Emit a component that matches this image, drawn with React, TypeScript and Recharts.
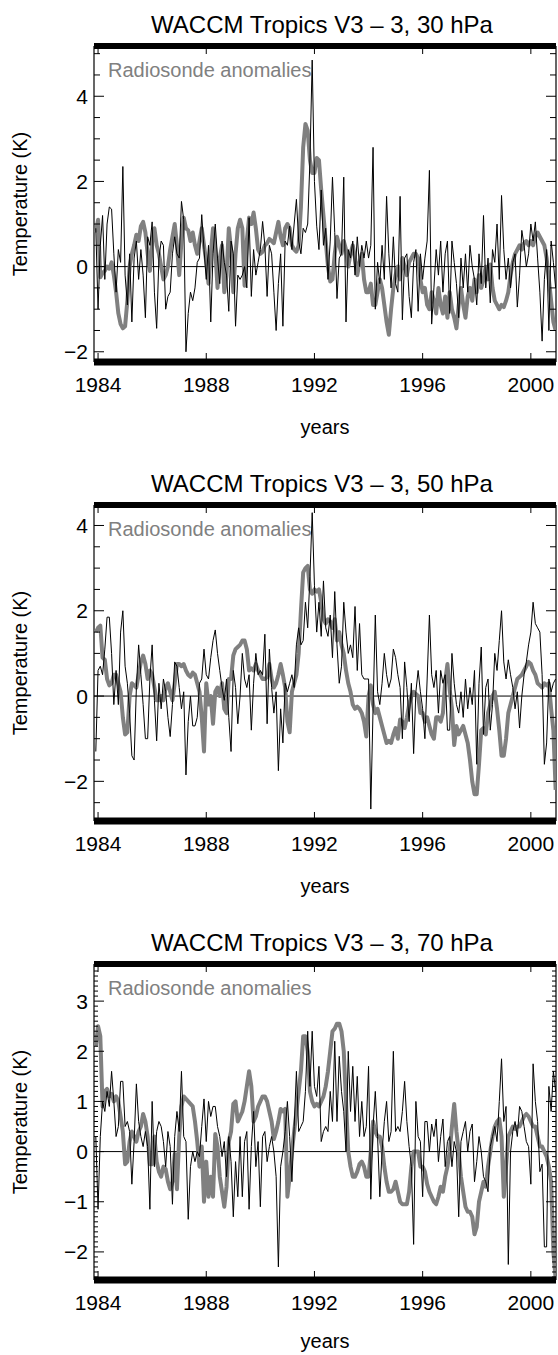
import { LineChart, Line, XAxis, YAxis, ReferenceLine } from 'recharts'

// monthly anomalies, Dec 1983 .. Dec 2000 (205 months)
const FIRST_MONTH = 1983 + 11 / 12
const YEAR_TICKS = [1984, 1988, 1992, 1996, 2000]
const X_DOMAIN: [number, number] = [1983.85, 2000.93]

// 30 hPa
const WACCM_30 = [
  0.9,
  -1.0, 0.5, 1.2, -0.3, 1.0, 1.4, 1.35, 0.3, -0.6, 0.4, 0.1, 2.35, // 1984
  -0.2, -0.9, 0.3, -1.3, 0.2, 0.6, -0.3, 0.4, -0.2, -1.2, 0.7, 0.5, // 1985
  1.05, -0.6, -1.45, 0.2, 0.6, 0.5, -1.0, -0.7, -0.6, 0.3, 0.7, 0.3, // 1986
  0.2, 1.53, 1.1, -2.0, -1.1, -0.6, -0.8, -0.5, 0.1, 0.2, 1.22, 0.4, // 1987
  -0.3, 0.5, -1.3, 0.3, 1.0, 0.2, -0.4, 0.6, 0.1, -0.2, -1.05, 0.6, // 1988
  0.3, -1.4, -0.2, -0.3, -0.2, 0.0, -0.5, 1.15, -0.7, 0.4, -0.2, 0.1, // 1989
  0.4, 1.06, 0.5, -0.7, 0.5, 0.3, -0.6, -1.5, -0.4, 0.3, -1.4, 0.6, // 1990
  0.5, 0.95, 0.4, 1.0, 1.58, 0.6, 0.3, 0.9, 0.8, 1.0, 2.5, 4.85, // 1991
  2.0, 0.95, 0.4, 1.8, 0.5, 0.9, -0.3, 0.6, 2.1, 0.8, -0.75, 0.2, // 1992
  0.3, 2.1, -1.3, 0.4, 0.2, 0.6, -0.2, 0.7, 0.0, 0.5, 0.2, 0.6, // 1993
  0.2, 0.5, 2.8, -1.0, 0.1, -0.4, 0.5, -0.3, 1.65, 0.3, -0.5, 0.7, // 1994
  -0.4, -0.6, 1.65, -1.25, 0.2, 0.3, -0.7, -1.2, 0.1, 0.4, -1.05, 0.3, // 1995
  -0.3, 0.2, 0.6, 2.26, -1.35, -0.5, 0.4, -0.2, 0.6, -0.6, 0.3, 0.6, // 1996
  -1.1, 0.6, 0.1, -0.4, -1.2, 0.2, -0.5, 0.3, -0.6, 0.5, 0.0, -0.3, // 1997
  -0.9, 0.3, -0.4, 1.2, -0.5, 0.2, -0.85, 0.4, 0.1, 1.0, -0.3, 1.67, // 1998
  0.4, -0.3, 0.2, -0.5, 0.1, 0.3, -0.95, -0.2, 0.85, 0.5, 0.0, 0.3, // 1999
  1.0, 0.6, 1.05, 0.2, -0.6, -1.75, -0.3, 0.4, -1.5, 0.6, 0.1, -0.5, // 2000
]
const SONDE_30 = [
  0.8,
  1.1, -0.25, -0.15, -0.1, 0.0, -0.05, 0.1, -0.2, -0.6, -1.1, -1.35, -1.45, // 1984
  -1.4, -0.8, 0.0, 0.3, 0.5, 0.75, 0.6, 0.95, 1.05, 0.8, 0.3, -0.1, // 1985
  0.6, 0.9, 0.5, 0.3, 0.0, -0.3, -0.2, 0.0, 0.4, 0.7, 1.0, 0.5, // 1986
  -0.2, 0.6, 1.15, 0.9, 0.85, 0.6, 0.8, 0.5, 0.3, 0.6, 0.9, 0.5, // 1987
  0.1, -0.4, 0.3, 0.9, 0.4, -0.5, 0.2, 0.5, -0.6, -0.2, 0.9, 0.4, // 1988
  -0.6, 0.3, 0.9, 1.1, 0.9, -0.45, 0.6, 1.15, 1.0, 1.27, 0.9, 0.4, // 1989
  0.3, 0.35, 0.5, 0.55, 0.65, 0.6, 0.55, 0.8, 1.05, 0.7, 0.5, 0.9, // 1990
  1.0, 0.9, 0.5, 0.4, 0.35, 0.5, 1.4, 2.8, 3.35, 3.2, 2.5, 2.2, // 1991
  2.2, 2.55, 2.5, 1.8, 1.2, 0.6, 0.0, -0.35, -0.3, 0.3, 0.7, 0.5, // 1992
  0.3, 0.6, 0.4, 0.0, 0.3, 0.5, 0.2, -0.2, 0.1, 0.3, -0.3, -0.6, // 1993
  -0.6, -0.4, -0.9, -0.9, -0.6, -0.3, -0.5, -0.9, -1.3, -1.6, -1.0, -0.5, // 1994
  -0.2, 0.0, -0.3, 0.2, 0.0, -0.2, 0.1, 0.2, 0.3, 0.3, 0.2, -0.3, // 1995
  -0.6, -0.5, -0.9, -1.0, -0.6, -0.8, -1.1, -0.5, -0.9, -1.1, -0.7, -1.2, // 1996
  -0.6, -1.0, -1.2, -1.45, -0.9, -0.5, -0.9, -1.2, -0.7, -0.5, -0.8, -0.3, // 1997
  -0.6, -0.2, -0.5, -0.3, 0.0, -0.3, 0.05, -0.5, -0.8, -0.9, -1.0, -0.9, // 1998
  -0.95, -0.8, -0.6, -0.2, 0.1, 0.3, 0.4, 0.5, 0.4, 0.55, 0.6, 0.5, // 1999
  0.6, 0.5, 0.7, 0.8, 0.7, 0.6, 0.5, 0.2, -0.3, -0.8, -1.3, -1.5, // 2000
]

// 50 hPa
const WACCM_50 = [
  -1.3,
  0.6, 0.7, 0.5, 1.1, 1.85, 1.85, 1.0, -0.2, 0.6, -0.2, 1.5, 2.0, // 1984
  0.7, 0.3, -0.4, -1.4, -1.5, 0.2, 1.2, 0.5, -0.2, -1.0, -1.0, 0.4, // 1985
  1.2, -0.1, -1.05, 0.3, -0.3, 0.4, 0.1, -0.5, -0.95, -0.2, 0.8, 0.7, // 1986
  0.2, -0.3, 0.1, -1.85, -0.6, 0.0, -0.7, -0.7, -0.5, 0.3, 0.4, 1.1, // 1987
  0.5, 0.4, 0.9, 1.3, 1.55, 1.0, 0.6, 0.2, -0.1, 0.4, -0.5, -1.3, // 1988
  0.6, 0.2, -0.65, 0.0, 1.0, 0.4, 0.2, 0.5, -0.8, 0.3, 1.0, 0.5, // 1989
  0.6, 0.5, 1.45, -0.65, 1.1, 0.2, -0.4, 0.1, -1.75, -0.3, -1.1, 0.3, // 1990
  0.1, 0.3, 0.5, 0.2, 1.2, 1.6, 1.2, 1.3, 2.2, 1.6, 2.8, 4.3, // 1991
  2.6, 1.5, 2.2, 1.4, 2.7, 1.6, 1.4, 1.9, 0.9, 2.45, 1.2, 0.3, // 1992
  0.7, 2.2, 1.5, 1.0, 1.2, 0.9, 2.1, 0.6, 1.7, 0.5, 0.4, 0.4, // 1993
  0.4, -2.65, -0.3, 1.9, 0.1, -0.2, 0.3, 1.0, 0.5, 0.2, 0.4, 1.1, // 1994
  0.9, 0.5, 0.2, -1.0, 0.8, 0.2, -0.6, 0.3, -1.35, 0.1, 0.6, 0.1, // 1995
  -0.3, -1.0, 0.4, 1.9, 0.5, 0.2, 0.6, -0.4, 0.6, 0.3, 0.5, -0.8, // 1996
  -0.8, 1.0, 0.3, -0.2, -0.4, 0.1, -0.5, 0.4, -0.3, 0.2, -0.2, 0.6, // 1997
  -1.6, 0.3, 1.15, -0.9, 0.2, 0.4, -0.8, -0.2, 1.0, 0.6, 1.3, 2.0, // 1998
  0.8, 0.4, 0.85, 0.5, 0.2, -0.3, 0.1, -0.75, 0.0, 0.5, 0.8, 1.2, // 1999
  1.5, 2.2, 1.7, 1.6, 1.5, 0.5, -1.6, -1.1, 0.4, 0.1, 0.3, 0.4, // 2000
]
const SONDE_50 = [
  1.5,
  1.6, 1.65, 0.9, 0.85, 0.4, 0.25, 0.3, 0.5, 0.5, 0.3, 0.1, -0.5, // 1984
  -0.9, -0.85, 0.0, 0.3, 0.25, 0.2, 0.5, 0.8, 0.95, 0.75, 0.4, 0.6, // 1985
  0.5, 0.2, -0.1, -0.1, 0.0, -0.1, 0.2, 0.3, 0.1, -0.1, 0.3, 0.75, // 1986
  0.75, 0.7, 0.75, 0.6, 0.5, 0.45, 0.55, 0.5, 0.3, 0.1, -0.5, -1.3, // 1987
  0.3, -0.2, 0.0, -0.65, 0.1, 0.2, 0.0, 0.3, -0.3, -0.4, 0.4, 0.4, // 1988
  0.95, 1.1, 1.15, 1.2, 1.3, 1.3, 1.1, 0.6, 0.65, 0.6, 0.75, 0.6, // 1989
  0.5, 0.4, 0.4, 0.45, 0.75, 0.4, 0.2, 0.3, 0.5, 0.75, 0.5, 0.2, // 1990
  -0.6, -0.85, 0.1, 0.3, 0.5, 1.0, 2.0, 2.9, 3.0, 3.05, 2.5, 2.4, // 1991
  2.5, 2.45, 2.5, 2.2, 1.8, 1.7, 1.8, 1.75, 1.6, 1.8, 1.3, 1.5, // 1992
  1.2, 1.0, 0.6, 0.3, 0.1, -0.2, -0.3, -0.25, -0.3, -0.4, -0.6, -0.95, // 1993
  0.0, 0.25, -0.2, -0.4, -0.3, -0.5, -0.7, -0.9, -1.1, -1.05, -1.1, -0.9, // 1994
  -0.75, -1.0, -0.55, -0.6, -0.75, -0.5, -0.2, 0.0, 0.1, 0.05, 0.0, -0.4, // 1995
  -0.4, -0.6, -0.5, -0.7, -0.9, -1.0, -0.5, -0.5, -0.6, -0.4, 0.35, 0.75, // 1996
  0.15, -0.3, -1.15, -0.7, -0.9, -0.8, -0.7, -0.9, -1.1, -1.5, -2.0, -2.3, // 1997
  -2.3, -1.6, -0.8, -0.75, -0.9, -0.4, -0.2, 0.0, 0.1, -0.3, -0.8, -1.4, // 1998
  -1.4, -1.0, -0.4, -0.2, 0.0, 0.2, 0.4, 0.45, 0.5, 0.6, 0.7, 0.8, // 1999
  0.75, 0.6, 0.5, 0.3, 0.25, 0.2, 0.3, 0.25, 0.3, -0.3, -0.8, -2.2, // 2000
]

// 70 hPa
const WACCM_70 = [
  0.3,
  -1.15, 0.3, 1.0, 0.8, 1.2, 0.9, 1.6, 1.0, 0.3, 0.5, 1.4, 1.4, // 1984
  0.5, 0.6, 0.4, -0.65, 0.2, 1.35, 0.6, 0.3, 0.1, 0.4, 0.1, -1.15, // 1985
  1.0, -0.3, 0.4, 0.6, 0.5, 0.2, -0.3, 0.4, 0.1, -1.05, 0.3, 0.8, // 1986
  0.4, 1.6, 0.3, 0.2, -1.35, -0.3, 0.0, -0.2, 0.0, -0.1, 0.5, 1.05, // 1987
  0.2, 1.0, 0.7, 0.9, 0.9, 0.5, 0.3, -0.1, 0.2, -0.5, 0.3, -0.2, // 1988
  -1.3, -0.2, -0.9, 0.3, -0.9, 0.2, 0.4, -1.15, 0.1, 0.8, -0.3, 0.2, // 1989
  -1.1, 0.3, 0.4, -0.2, 0.1, 0.3, 0.0, -0.5, -2.3, -0.3, 0.0, 0.4, // 1990
  1.0, 0.3, -0.6, 0.5, 1.6, 0.4, 0.5, 0.6, 1.2, 2.4, 1.3, 2.4, // 1991
  1.3, 1.1, 1.7, 0.2, 0.4, 0.5, 0.4, 1.2, 0.6, 2.2, 0.6, 1.9, // 1992
  1.2, 0.8, 0.0, 2.0, 0.8, 1.7, 0.6, 1.5, 0.3, 1.0, 0.3, 0.5, // 1993
  1.7, -0.95, 0.5, 1.2, 0.3, -0.9, 0.0, 0.6, 1.0, 0.2, 0.4, 2.0, // 1994
  0.4, 0.5, 0.4, 0.8, 1.4, 0.6, 0.1, -0.3, -1.85, 1.0, 0.3, 0.2, // 1995
  -0.9, 0.6, 0.6, 0.0, 0.55, 0.3, 0.65, -0.2, 0.3, 0.65, -0.3, 0.2, // 1996
  0.3, -0.3, 0.2, 0.0, -1.3, 0.2, 0.4, 0.6, 0.0, 0.4, 0.55, -0.6, // 1997
  -0.2, 0.3, 0.0, -0.5, -0.6, -0.8, 0.1, 0.3, 0.5, 0.2, 1.0, 1.85, // 1998
  0.6, 0.9, -2.25, 0.0, 0.4, 0.6, 0.3, 0.9, 0.8, 0.5, 0.2, 0.1, // 1999
  -0.65, 1.75, 1.0, 0.6, -0.4, -0.25, -1.9, -1.9, 1.3, 0.8, 1.6, 1.2, // 2000
]
const SONDE_70 = [
  2.1,
  2.5, 2.3, 0.9, 1.2, 1.25, 1.1, 1.15, 1.0, 1.1, 1.0, 0.7, 0.4, // 1984
  -0.25, -0.2, 0.2, 0.4, 0.3, 0.2, 0.4, 0.5, 0.75, 0.6, 0.3, -0.25, // 1985
  -0.25, 0.3, -0.2, -0.4, -0.5, -0.3, -0.35, -0.6, -0.75, -0.6, -0.05, -0.75, // 1986
  0.3, 0.9, 1.1, 1.05, 1.0, 0.95, 0.9, 0.6, 0.2, -0.3, 0.1, -1.0, // 1987
  -0.2, -0.9, -0.5, -0.9, 0.35, 0.1, -0.5, -0.8, -1.1, -0.7, 0.2, 0.4, // 1988
  0.95, 1.0, 0.6, 0.7, 0.8, 1.0, 1.3, 1.6, 1.3, 0.6, 0.7, 0.9, // 1989
  1.0, 1.1, 1.1, 1.0, 0.8, 0.6, 0.25, 0.4, 0.6, 0.85, 0.8, 0.85, // 1990
  -0.9, -0.5, 0.0, 0.4, 0.8, 1.2, 1.6, 2.3, 2.3, 2.0, 1.2, 1.0, // 1991
  0.9, 0.95, 0.9, 1.0, 1.1, 1.3, 1.6, 2.0, 2.4, 2.45, 2.55, 2.55, // 1992
  2.4, 2.0, 1.0, 0.0, -0.3, -0.5, -0.5, -0.4, -0.25, -0.2, -0.3, -0.5, // 1993
  -0.5, 0.0, 0.6, 0.4, 0.3, 0.3, 0.1, -0.3, -0.6, -0.8, -0.8, -0.75, // 1994
  -0.6, -0.8, -1.0, -1.05, -1.05, -1.05, -0.8, -0.3, 0.0, 0.0, 0.0, -0.3, // 1995
  -0.3, -0.4, -0.65, -0.8, -0.9, -1.0, -1.05, -0.9, -0.7, -0.8, -0.5, -0.3, // 1996
  0.0, 0.5, 0.95, 0.4, 0.0, -0.5, -0.8, -1.1, -1.2, -1.2, -1.3, -1.65, // 1997
  -1.5, -1.0, -0.8, -0.6, -0.7, -0.3, 0.0, 0.3, 0.5, 0.6, 0.65, 0.3, // 1998
  -0.9, -0.3, 0.3, 0.4, 0.5, 0.45, 0.5, 0.5, 0.6, 0.7, 0.75, 0.7, // 1999
  0.6, 0.5, 0.5, 0.3, 0.1, 0.1, 0.0, -0.1, -0.3, -0.6, -2.0, -2.55, // 2000
]

const Y_LABELS_30 = [-2, 0, 2, 4]
const Y_LABELS_50 = [-2, 0, 2, 4]
const Y_LABELS_70 = [-2, -1, 0, 1, 2, 3]

const W = 558
const PANEL_H = 459
const PLOT_TOP = 46
const PLOT_LEFT = 94
const PLOT_RIGHT = 556
const PLOT_BOTTOM = 362
const FONT = '"Liberation Sans", Arial, Helvetica, sans-serif'
const GREY = '#808080'
const TICK_FONT = 21

function fmt(v: number) {
  return v < 0 ? '\u2212' + Math.abs(v) : String(v)
}

function minorTicks(domain: [number, number], step: number) {
  const out: number[] = []
  for (let i = Math.ceil(domain[0] / step); i * step <= domain[1]; i++) {
    out.push(Math.round(i * step * 100) / 100)
  }
  return out
}

function XTick({ x, payload }: any) {
  return (
    <g>
      <line x1={x} x2={x} y1={PLOT_BOTTOM} y2={PLOT_BOTTOM - 9} stroke="#000" />
      <line x1={x} x2={x} y1={PLOT_TOP} y2={PLOT_TOP + 8} stroke="#000" />
      <text x={x} y={PLOT_BOTTOM + 30} textAnchor="middle" fontSize={TICK_FONT} fontFamily={FONT} fill="#000">
        {payload.value}
      </text>
    </g>
  )
}

function makeYTick(labels: number[], minorLen: number) {
  return ({ y, payload }: any) => {
    const v = payload.value
    const major = labels.some((l) => Math.abs(l - v) < 1e-6)
    const len = major ? 10 : minorLen
    return (
      <g>
        <line x1={PLOT_LEFT} x2={PLOT_LEFT + len} y1={y} y2={y} stroke="#000" />
        <line x1={PLOT_RIGHT} x2={PLOT_RIGHT - len} y1={y} y2={y} stroke="#000" />
        {major && (
          <text x={PLOT_LEFT - 6} y={y} dy="0.36em" textAnchor="end" fontSize={TICK_FONT} fontFamily={FONT} fill="#000">
            {fmt(v)}
          </text>
        )}
      </g>
    )
  }
}

interface PanelProps {
  title: string
  waccm: number[]
  sonde: number[]
  yDomain: [number, number]
  yLabels: number[]
  minorStep: number
  yearsGap?: number
}

function Panel({ title, waccm, sonde, yDomain, yLabels, minorStep, yearsGap = 72 }: PanelProps) {
  const data = waccm.map((v, i) => ({ t: FIRST_MONTH + i / 12, waccm: v, sonde: sonde[i] }))
  const midY = (PLOT_TOP + PLOT_BOTTOM) / 2
  const midX = (PLOT_LEFT + PLOT_RIGHT) / 2
  return (
    <div style={{ position: 'relative', width: W, height: PANEL_H }}>
      <svg width={W} height={PANEL_H} style={{ position: 'absolute', left: 0, top: 0 }} fontFamily={FONT}>
        <text x={midX - 3} y={33} textAnchor="middle" fontSize={24} fill="#000">
          {title}
        </text>
        <text x={PLOT_LEFT + 14} y={PLOT_TOP + 31} fontSize={20} fill={GREY}>
          Radiosonde anomalies
        </text>
        <text x={midX} y={PLOT_BOTTOM + yearsGap} textAnchor="middle" fontSize={20} fill="#000">
          years
        </text>
        <text
          x={0}
          y={0}
          transform={`translate(27, ${midY}) rotate(-90)`}
          textAnchor="middle"
          fontSize={20}
          fill="#000"
        >
          Temperature (K)
        </text>
      </svg>
      <div style={{ position: 'absolute', left: 0, top: 0 }}>
        <LineChart
          width={W}
          height={PANEL_H}
          data={data}
          margin={{ top: PLOT_TOP, right: W - PLOT_RIGHT, bottom: 0, left: 0 }}
        >
          <XAxis
            dataKey="t"
            type="number"
            domain={X_DOMAIN}
            ticks={YEAR_TICKS}
            interval={0}
            allowDataOverflow
            axisLine={false}
            tickLine={false}
            height={PANEL_H - PLOT_BOTTOM}
            tick={XTick}
          />
          <YAxis
            type="number"
            domain={yDomain}
            ticks={minorTicks(yDomain, minorStep)}
            interval={0}
            allowDataOverflow
            axisLine={false}
            tickLine={false}
            width={PLOT_LEFT}
            tick={makeYTick(yLabels, minorStep < 0.2 ? 4 : 6)}
          />
          <ReferenceLine y={0} stroke="#000" strokeWidth={1} />
          <ReferenceLine x={X_DOMAIN[0]} stroke="#000" strokeWidth={1.2} />
          <ReferenceLine x={X_DOMAIN[1]} stroke="#000" strokeWidth={1.2} />
          <Line
            dataKey="sonde"
            type="linear"
            stroke={GREY}
            strokeWidth={4}
            strokeLinejoin="round"
            dot={false}
            isAnimationActive={false}
          />
          <Line
            dataKey="waccm"
            type="linear"
            stroke="#000"
            strokeWidth={1}
            dot={false}
            isAnimationActive={false}
          />
          <ReferenceLine y={yDomain[1]} stroke="#000" strokeWidth={6} />
          <ReferenceLine y={yDomain[0]} stroke="#000" strokeWidth={7} />
        </LineChart>
      </div>
    </div>
  )
}

export default function App() {
  return (
    <div style={{ position: 'absolute', left: 0, top: 0, width: W, height: 1355, overflow: 'hidden', background: '#fff' }}>
      <Panel
        title="WACCM Tropics V3 – 3, 30 hPa"
        waccm={WACCM_30}
        sonde={SONDE_30}
        yDomain={[-2.24, 5.18]}
        yLabels={Y_LABELS_30}
        minorStep={0.5}
      />
      <Panel
        title="WACCM Tropics V3 – 3, 50 hPa"
        waccm={WACCM_50}
        sonde={SONDE_50}
        yDomain={[-2.93, 4.48]}
        yLabels={Y_LABELS_50}
        minorStep={0.5}
      />
      <Panel
        title="WACCM Tropics V3 – 3, 70 hPa"
        waccm={WACCM_70}
        sonde={SONDE_70}
        yDomain={[-2.56, 3.74]}
        yLabels={Y_LABELS_70}
        minorStep={0.1}
        yearsGap={68}
      />
    </div>
  )
}
